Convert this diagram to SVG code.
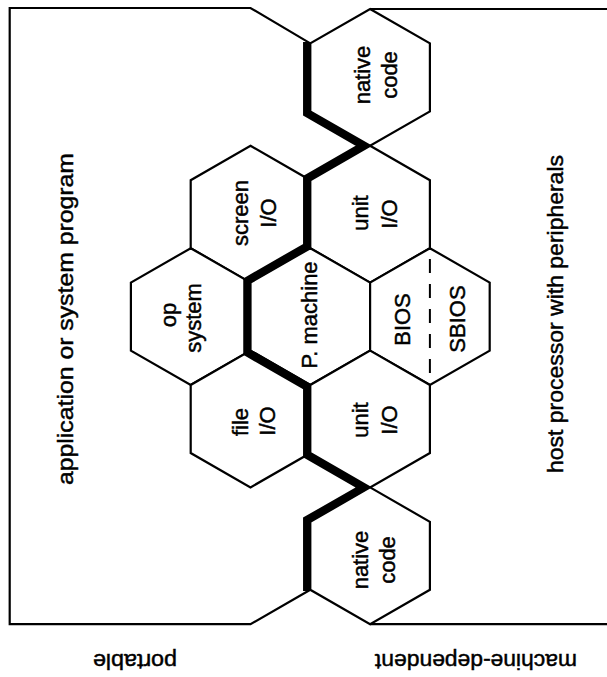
<svg xmlns="http://www.w3.org/2000/svg" width="607" height="677" viewBox="0 0 607 677">
<style>
.hex{fill:#ffffff;stroke:#000;stroke-width:2.2;stroke-linejoin:miter}
.frame{fill:none;stroke:#000;stroke-width:2.2}
.thick{fill:none;stroke:#000;stroke-width:7.5;stroke-linejoin:miter;stroke-miterlimit:10}
.dash{stroke:#000;stroke-width:2;stroke-dasharray:14 11}
text{font-family:"Liberation Sans",Arial,sans-serif;font-size:22px;fill:#000;stroke:#000;stroke-width:0.45;text-anchor:middle}
</style>
<rect width="607" height="677" fill="#ffffff"/>
<g id="frame-lines">
<polyline class="frame" points="310.3,589.8 250.5,624.2 9.7,624.2 9.7,8 250.5,8 310.3,43.4"/>
<line class="frame" x1="370.1" y1="9" x2="607" y2="9"/>
<line class="frame" x1="370.1" y1="624.2" x2="607" y2="624.2"/>
</g>
<g id="native-code-top">
<polygon class="hex" points="370.1,9 429.9,43.4 429.9,111.4 370.1,145.8 310.3,111.4 310.3,43.4"/>
<text transform="translate(370,75) rotate(-90)">native</text>
<text transform="translate(397,75) rotate(-90)">code</text>
</g>
<g id="screen-io">
<polygon class="hex" points="250.5,145.8 310.3,180.2 310.3,248.2 250.5,282.6 190.7,248.2 190.7,180.2"/>
<text transform="translate(248,213) rotate(-90)">screen</text>
<text transform="translate(276,213) rotate(-90)">I/O</text>
</g>
<g id="unit-io-upper">
<polygon class="hex" points="370.1,145.8 429.9,180.2 429.9,248.2 370.1,282.6 310.3,248.2 310.3,180.2"/>
<text transform="translate(368,213) rotate(-90)">unit</text>
<text transform="translate(397,214) rotate(-90)">I/O</text>
</g>
<g id="op-system">
<polygon class="hex" points="190.7,248.2 250.5,282.6 250.5,350.6 190.7,385 130.9,350.6 130.9,282.6"/>
<text transform="translate(176,315) rotate(-90)">op</text>
<text transform="translate(201,318) rotate(-90)">system</text>
</g>
<g id="p-machine">
<polygon class="hex" points="310.3,248.2 370.1,282.6 370.1,350.6 310.3,385 250.5,350.6 250.5,282.6"/>
<text transform="translate(317,315) rotate(-90)">P. machine</text>
</g>
<g id="bios-sbios">
<polygon class="hex" points="429.9,248.2 489.7,282.6 489.7,350.6 429.9,385 370.1,350.6 370.1,282.6"/>
<line class="dash" x1="429.9" y1="259" x2="429.9" y2="373"/>
<text transform="translate(410,319.5) rotate(-90)">BIOS</text>
<text transform="translate(464.5,319) rotate(-90)">SBIOS</text>
</g>
<g id="file-io">
<polygon class="hex" points="250.5,350.6 310.3,385 310.3,453 250.5,487.4 190.7,453 190.7,385"/>
<text transform="translate(248,422) rotate(-90)">file</text>
<text transform="translate(275,421) rotate(-90)">I/O</text>
</g>
<g id="unit-io-lower">
<polygon class="hex" points="370.1,350.6 429.9,385 429.9,453 370.1,487.4 310.3,453 310.3,385"/>
<text transform="translate(368,420) rotate(-90)">unit</text>
<text transform="translate(397,420) rotate(-90)">I/O</text>
</g>
<g id="native-code-bottom">
<polygon class="hex" points="370.1,487.4 429.9,521.8 429.9,589.8 370.1,624.2 310.3,589.8 310.3,521.8"/>
<text transform="translate(368,560) rotate(-90)">native</text>
<text transform="translate(395,560) rotate(-90)">code</text>
</g>
<g id="connectors">
<polyline class="thick" points="306.8,42 306.8,113.43 363.08,145.8 306.8,178.18 306.8,246.17 247,280.58 247,352.63 306.8,387.03 306.8,455.03 363.08,487.4 306.8,519.78 306.8,591"/>
</g>
<g id="label-application">
<text transform="translate(73,319) rotate(-90)" textLength="332" lengthAdjust="spacingAndGlyphs">application or system program</text>
</g>
<g id="label-host">
<text transform="translate(563,314) rotate(-90)" textLength="318" lengthAdjust="spacingAndGlyphs">host processor with peripherals</text>
</g>
<g id="label-portable">
<text transform="translate(135,653.5) rotate(180)" textLength="84" lengthAdjust="spacingAndGlyphs">portable</text>
</g>
<g id="label-machine-dependent">
<text transform="translate(476,653.5) rotate(180)" textLength="202" lengthAdjust="spacingAndGlyphs">machine-dependent</text>
</g>
</svg>
